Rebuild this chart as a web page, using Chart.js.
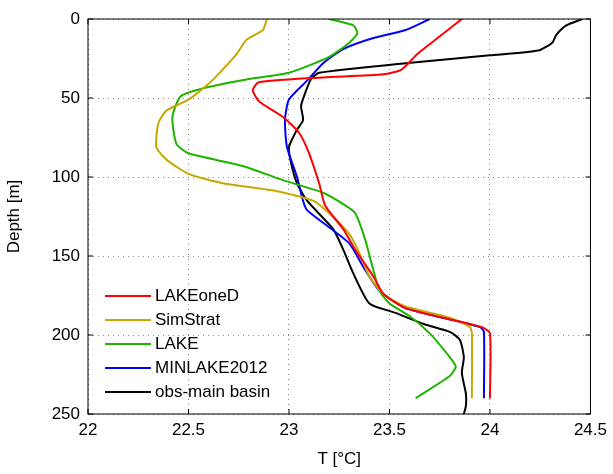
<!DOCTYPE html>
<html>
<head>
<meta charset="utf-8">
<script src="https://cdn.jsdelivr.net/npm/chart.js@4/dist/chart.umd.min.js"></script>
<style>
  html, body { margin: 0; padding: 0; background: #fff; }
  #wrap { width: 613px; height: 474px; }
</style>
</head>
<body>
<div id="wrap"><canvas id="c" width="613" height="474"></canvas></div>
<script>
// [temperature °C, depth m] pairs
const lakeOneD = [[23.86,0],[23.8,6],[23.73,13],[23.64,22],[23.56,32],[23.47,35],[23.17,37],[22.85,40],[22.82,45],[22.85,52],[22.97,62],[23.05,72],[23.1,85],[23.15,104],[23.18,118],[23.27,133],[23.33,146],[23.42,163],[23.47,174],[23.58,183],[23.83,191],[23.96,195],[24.0,199],[24.0,240]];
const simStrat = [[22.89,0],[22.87,7],[22.79,13],[22.74,22],[22.67,32],[22.6,41],[22.5,51],[22.39,58],[22.35,66],[22.34,81],[22.39,89],[22.5,98],[22.67,104],[22.94,109],[23.12,115],[23.2,123],[23.3,136],[23.35,148],[23.4,163],[23.47,174],[23.58,182],[23.8,189],[23.9,195],[23.91,199],[23.91,240]];
const lake = [[23.2,0],[23.32,4],[23.34,9],[23.3,15],[23.2,24],[23.0,34],[22.8,38],[22.57,44],[22.46,49],[22.42,62],[22.44,79],[22.5,85],[22.77,93],[22.97,102],[23.17,110],[23.28,118],[23.33,123],[23.38,140],[23.42,159],[23.45,172],[23.5,180],[23.6,188],[23.7,199],[23.8,214],[23.83,220],[23.8,226],[23.63,240]];
const minlake = [[23.7,0],[23.58,7],[23.42,12],[23.27,19],[23.17,28],[23.09,39],[23.0,51],[22.98,64],[22.99,81],[23.04,100],[23.07,115],[23.09,121],[23.17,129],[23.3,142],[23.37,157],[23.45,172],[23.58,183],[23.83,191],[23.95,195],[23.97,198],[23.97,240]];
const obs = [[24.46,0],[24.38,4],[24.33,10],[24.31,15],[24.24,20],[24.0,23],[23.58,28],[23.15,34],[23.11,38],[23.08,47],[23.06,55],[23.07,64],[23.04,70],[23.0,81],[23.01,91],[23.04,104],[23.09,115],[23.22,133],[23.27,146],[23.32,161],[23.4,180],[23.53,186],[23.67,193],[23.8,198],[23.85,203],[23.87,214],[23.86,224],[23.88,237],[23.88,245],[23.87,250]];

const seriesNames = ['LAKEoneD', 'SimStrat', 'LAKE', 'MINLAKE2012', 'obs-main basin'];
const seriesColors = ['#ff0000', '#c8a800', '#1eb400', '#0000ff', '#000000'];
const seriesData = [lakeOneD, simStrat, lake, minlake, obs];

const xTicks = [22, 22.5, 23, 23.5, 24, 24.5];
const yTicks = [0, 50, 100, 150, 200, 250];

const font = 'Liberation Sans, Arial, sans-serif';

// legend drawn inside the plot, lower left
const insideLegend = {
    id: 'insideLegend',
    afterDraw(chart) {
        const ctx = chart.ctx;
        const area = chart.chartArea;
        ctx.save();
        ctx.font = '17px ' + font;
        ctx.textBaseline = 'middle';
        chart.data.datasets.forEach((ds, i) => {
            const y = area.top + 277 + i * 24;
            ctx.strokeStyle = ds.borderColor;
            ctx.lineWidth = 2;
            ctx.beginPath();
            ctx.moveTo(area.left + 17, y);
            ctx.lineTo(area.left + 63, y);
            ctx.stroke();
            ctx.fillStyle = '#000';
            ctx.fillText(ds.label, area.left + 67, y);
        });
        ctx.restore();
    }
};

// solid box with inward ticks, like the original
const frame = {
    id: 'frame',
    afterDraw(chart) {
        const a = chart.chartArea, ctx = chart.ctx;
        const xs = chart.scales.x, ys = chart.scales.y;
        ctx.save();
        ctx.strokeStyle = '#000';
        ctx.lineWidth = 1;
        ctx.strokeRect(a.left, a.top, a.right - a.left, a.bottom - a.top);
        ctx.beginPath();
        xTicks.forEach(v => {
            const px = xs.getPixelForValue(v);
            ctx.moveTo(px, a.bottom); ctx.lineTo(px, a.bottom - 5);
            ctx.moveTo(px, a.top); ctx.lineTo(px, a.top + 5);
        });
        yTicks.forEach(v => {
            const py = ys.getPixelForValue(v);
            ctx.moveTo(a.left, py); ctx.lineTo(a.left + 5, py);
            ctx.moveTo(a.right, py); ctx.lineTo(a.right - 5, py);
        });
        ctx.stroke();
        ctx.restore();
    }
};

new Chart(document.getElementById('c'), {
    type: 'scatter',
    data: {
        datasets: seriesData.map((d, i) => ({
            label: seriesNames[i],
            data: d.map(p => ({ x: p[0], y: p[1] })),
            showLine: true,
            borderColor: seriesColors[i],
            backgroundColor: seriesColors[i],
            borderWidth: 2,
            pointRadius: 0,
            tension: 0.2
        }))
    },
    options: {
        responsive: false,
        animation: false,
        layout: { padding: { top: 19, right: 22, left: 0, bottom: 0 } },
        plugins: { legend: { display: false }, tooltip: { enabled: false } },
        scales: {
            x: {
                type: 'linear', min: 22, max: 24.5,
                afterBuildTicks: s => { s.ticks = xTicks.map(v => ({ value: v })); },
                afterFit: s => { s.height = 60; },
                ticks: { color: '#000', font: { family: font, size: 17 }, padding: 6, callback: v => String(v) },
                grid: { color: '#888', tickLength: 0 },
                border: { display: false, dash: [1, 4] },
                title: { display: true, text: 'T [°C]', color: '#000', font: { family: font, size: 17 }, padding: { top: 4 } }
            },
            y: {
                type: 'linear', min: 0, max: 250, reverse: true,
                afterBuildTicks: s => { s.ticks = yTicks.map(v => ({ value: v })); },
                afterFit: s => { s.width = 88; },
                ticks: { color: '#000', font: { family: font, size: 17 }, padding: 8, callback: v => String(v) },
                grid: { color: '#888', tickLength: 0 },
                border: { display: false, dash: [1, 4] },
                title: { display: true, text: 'Depth [m]', color: '#000', font: { family: font, size: 17 }, padding: { bottom: 2 } }
            }
        }
    },
    plugins: [insideLegend, frame]
});
</script>
</body>
</html>
